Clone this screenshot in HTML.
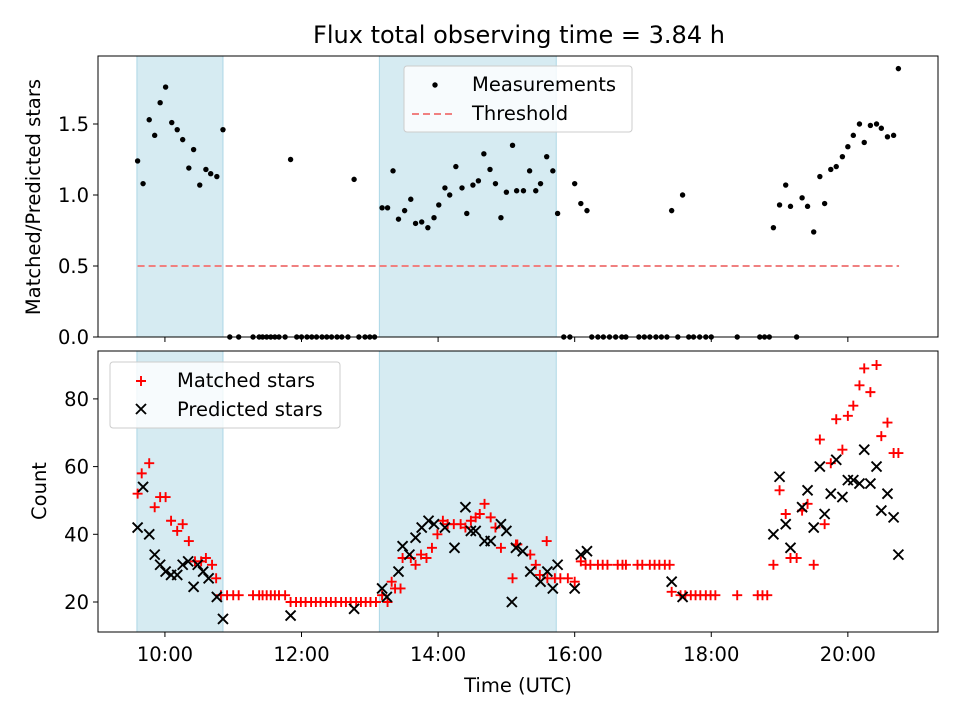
<!DOCTYPE html>
<html><head><meta charset="utf-8"><style>
body{margin:0;background:#fff}
svg{display:block;font-family:"DejaVu Sans","Liberation Sans",sans-serif}
</style></head><body>
<svg id="c" width="960" height="720" viewBox="0 0 960 720"></svg>
<script>
const spans=[[9.59,10.85],[13.14,15.73]];
const threshold=0.5;
const measTimes=[9.60,9.68,9.77,9.85,9.93,10.01,10.10,10.18,10.26,10.35,10.42,10.51,10.60,10.67,10.76,10.85,
10.95,11.08,11.29,11.38,11.43,11.49,11.55,11.61,11.67,11.76,11.84,11.93,12.00,12.08,12.15,12.22,12.30,12.37,12.44,12.52,12.59,12.68,12.77,12.84,12.93,13.00,13.07,
13.18,13.26,13.34,13.42,13.51,13.60,13.67,13.76,13.85,13.94,14.01,14.10,14.17,14.26,14.35,14.42,14.51,14.59,14.67,14.76,14.84,14.92,15.00,15.09,15.15,15.25,15.34,15.43,15.50,15.59,15.68,15.75,
15.84,15.93,16.00,16.09,16.18,16.25,16.34,16.42,16.51,16.60,16.69,16.75,16.94,17.02,17.10,17.19,17.27,17.35,17.42,17.51,17.58,17.67,17.74,17.83,17.92,18.00,18.38,18.71,18.78,18.85,
18.91,19.00,19.09,19.16,19.25,19.33,19.41,19.50,19.59,19.66,19.75,19.83,19.92,20.00,20.08,20.17,20.24,20.33,20.42,20.49,20.58,20.67,20.74];
const measVals=[1.24,1.08,1.53,1.42,1.65,1.76,1.51,1.46,1.39,1.19,1.32,1.07,1.18,1.15,1.13,1.46,
0,0,0,0,0,0,0,0,0,0,1.25,0,0,0,0,0,0,0,0,0,0,0,1.11,0,0,0,0,
0.91,0.91,1.17,0.83,0.89,0.97,0.80,0.81,0.77,0.84,0.93,1.05,1.00,1.20,1.05,0.87,1.07,1.10,1.29,1.18,1.08,0.84,1.02,1.35,1.03,1.03,1.17,1.03,1.08,1.27,1.17,0.87,
0,0,1.08,0.94,0.89,0,0,0,0,0,0,0,0,0,0,0,0,0,0.89,0,1.00,0,0,0,0,0,0,0,0,0,
0.77,0.93,1.07,0.92,0,0.98,0.92,0.74,1.13,0.94,1.18,1.20,1.27,1.34,1.42,1.50,1.37,1.49,1.50,1.47,1.41,1.42,1.89];
const matchedTimes=[9.60,9.66,9.77,9.85,9.93,10.01,10.09,10.18,10.26,10.35,10.44,10.53,10.60,10.69,10.75,10.82,
10.91,11.00,11.08,11.29,11.38,11.43,11.49,11.55,11.61,11.67,11.76,
11.84,11.92,11.99,12.06,12.14,12.21,12.28,12.36,12.43,12.50,12.58,12.65,12.72,12.80,12.87,12.94,13.01,13.09,
13.18,13.26,13.32,13.37,13.45,13.48,13.60,13.67,13.75,13.83,13.91,13.99,14.07,14.14,14.23,14.33,14.40,14.48,14.55,14.61,14.68,14.77,14.84,14.92,15.09,15.14,
15.16,15.35,15.59,15.43,15.49,15.60,15.71,15.79,15.90,16.00,16.09,
16.16,16.23,16.34,16.41,16.48,16.63,16.70,16.75,16.92,16.99,17.10,17.17,17.24,17.32,17.39,
17.42,17.55,17.62,17.70,17.77,17.84,17.92,17.99,18.06,18.38,18.68,18.75,18.82,
18.91,19.00,19.09,19.16,19.25,19.33,19.41,19.50,19.59,19.66,19.75,19.83,19.92,20.00,20.08,20.17,20.24,20.33,20.42,20.49,20.58,20.67,20.74];
const matchedVals=[52,58,61,48,51,51,44,41,43,38,32,32,33,31,27,22,
22,22,22,22,22,22,22,22,22,22,22,
20,20,20,20,20,20,20,20,20,20,20,20,20,20,20,20,20,20,
22,20,26,24,24,33,33,31,34,33,36,40,44,43,43,43,42,44,45,46,49,45,42,36,27,37,
37,34,38,31,28,27,27,27,27,26,32,
31,31,31,31,31,31,31,31,31,31,31,31,31,31,31,
23,22,22,22,22,22,22,22,22,22,22,22,22,
31,53,46,33,33,47,49,31,68,43,61,74,65,75,78,84,89,82,90,69,73,64,64];
const predTimes=[9.60,9.68,9.77,9.85,9.93,10.01,10.09,10.18,10.26,10.34,10.42,10.48,10.56,10.64,10.76,10.85,
11.84,12.77,13.18,13.25,13.42,13.48,13.58,13.67,13.76,13.86,13.94,14.10,14.24,14.40,14.48,14.55,14.68,14.77,14.92,15.00,15.08,15.14,
15.24,15.35,15.50,15.60,15.68,15.75,16.00,16.09,16.18,17.42,17.58,
18.91,19.00,19.09,19.16,19.33,19.41,19.50,19.59,19.66,19.75,19.83,19.92,20.00,20.08,20.17,20.24,20.33,20.42,20.49,20.58,20.67,20.74];
const predVals=[42,54,40,34,31,29,28,28,31,32,24.5,31,29,27,21.5,15,
16,18,24,21.5,29,36.5,34,39,42,44,43,42,36,48,41,41,38,38,43,41,20,36,
35,29,26,29,24,31,24,34,35,26,21.5,
40,57,43,36,48,53,42,60,46,52,62,51,56,56,55,65,55,60,47,52,45,34];
const xTicks=[10,12,14,16,18,20];
const topTicks=[0,0.5,1.0,1.5];
const botTicks=[20,40,60,80];

const NS="http://www.w3.org/2000/svg";
const svg=document.getElementById('c');
function el(tag,attrs,parent,text){const e=document.createElementNS(NS,tag);for(const k in attrs)e.setAttribute(k,attrs[k]);if(text!==undefined)e.textContent=text;(parent||svg).appendChild(e);return e;}
const L=98,R=938;
const X=h=>L+(h-9.02)/(21.32-9.02)*(R-L);
const T={top:56,bot:337},B={top:351,bot:632};
const Yt=v=>337-v*142;
const Yb=v=>602-(v-20)*3.385;

[T,B].forEach((p,pi)=>{spans.forEach((s,i)=>{
 const r=el('rect',{x:X(s[0]),y:p.top,width:X(s[1])-X(s[0]),height:p.bot-p.top,fill:'#add8e6','fill-opacity':0.5,stroke:'#add8e6','stroke-width':1});
 
 
});});

const th=el('line',{x1:X(measTimes[0]),x2:X(20.75),y1:Yt(threshold),y2:Yt(threshold),stroke:'#f08080','stroke-width':2,'stroke-dasharray':'7,4'});



measTimes.forEach((t,i)=>{const c=el('circle',{cx:X(t),cy:Yt(measVals[i]),r:2.7,fill:'#000'});
 
 });

matchedTimes.forEach((t,i)=>{const x=X(t),y=Yb(matchedVals[i]);
 const g=el('path',{d:`M${x-5},${y}H${x+5}M${x},${y-5}V${y+5}`,stroke:'#f00','stroke-width':1.9});
 
 });
predTimes.forEach((t,i)=>{const x=X(t),y=Yb(predVals[i]);
 const g=el('path',{d:`M${x-5},${y-5}L${x+5},${y+5}M${x-5},${y+5}L${x+5},${y-5}`,stroke:'#000','stroke-width':1.9});
 
 });

[T,B].forEach((p,pi)=>{
 const f=el('rect',{x:L,y:p.top,width:R-L,height:p.bot-p.top,fill:'none',stroke:'#000','stroke-width':1});
 
 
 xTicks.forEach(h=>{const x=X(h);el('line',{x1:x,x2:x,y1:p.bot,y2:p.bot+5,stroke:'#000'});
  if(pi){const t=el('text',{x:x,y:p.bot+29,'font-size':19.5,'text-anchor':'middle'},svg,(h<10?'0':'')+h+':00');
   
   }});
 const ticks=pi?botTicks:topTicks, Y=pi?Yb:Yt;
 ticks.forEach(v=>{const y=Y(v);el('line',{x1:L-5,x2:L,y1:y,y2:y,stroke:'#000'});
  const t=el('text',{x:L-9,y:y+7,'font-size':19.5,'text-anchor':'end'},svg,pi?String(v):v.toFixed(1));
  
  });
});
</script>
<svg width="960" height="720" style="position:absolute;left:0;top:0">
<g font-family="DejaVu Sans, Liberation Sans, sans-serif">
<text x="519" y="43" font-size="24" text-anchor="middle">Flux total observing time = 3.84 h</text>
<text transform="translate(40,197) rotate(-90)" font-size="19.5" text-anchor="middle">Matched/Predicted stars</text>
<text transform="translate(46,491) rotate(-90)" font-size="19.5" text-anchor="middle">Count</text>
<text x="518" y="692" font-size="19.5" text-anchor="middle">Time (UTC)</text>
<g font-size="19.5">
<rect x="404" y="66" width="228" height="66" rx="3" fill="#fff" fill-opacity="0.8" stroke="#ccc"/>
<circle cx="435" cy="85" r="2.7" fill="#000"/>
<text x="472" y="91">Measurements</text>
<line x1="412" x2="454" y1="114" y2="114" stroke="#f08080" stroke-width="2" stroke-dasharray="7,4"/>
<text x="472" y="120">Threshold</text>
</g>
<g font-size="19.5">
<rect x="110" y="362" width="230" height="66" rx="3" fill="#fff" fill-opacity="0.8" stroke="#ccc"/>
<path d="M136,381H146M141,376V386" stroke="#f00" stroke-width="1.9"/>
<text x="177" y="387">Matched stars</text>
<path d="M136,404L146,414M136,414L146,404" stroke="#000" stroke-width="1.9"/>
<text x="177" y="416">Predicted stars</text>
</g>
</g>
</svg>
</body></html>
